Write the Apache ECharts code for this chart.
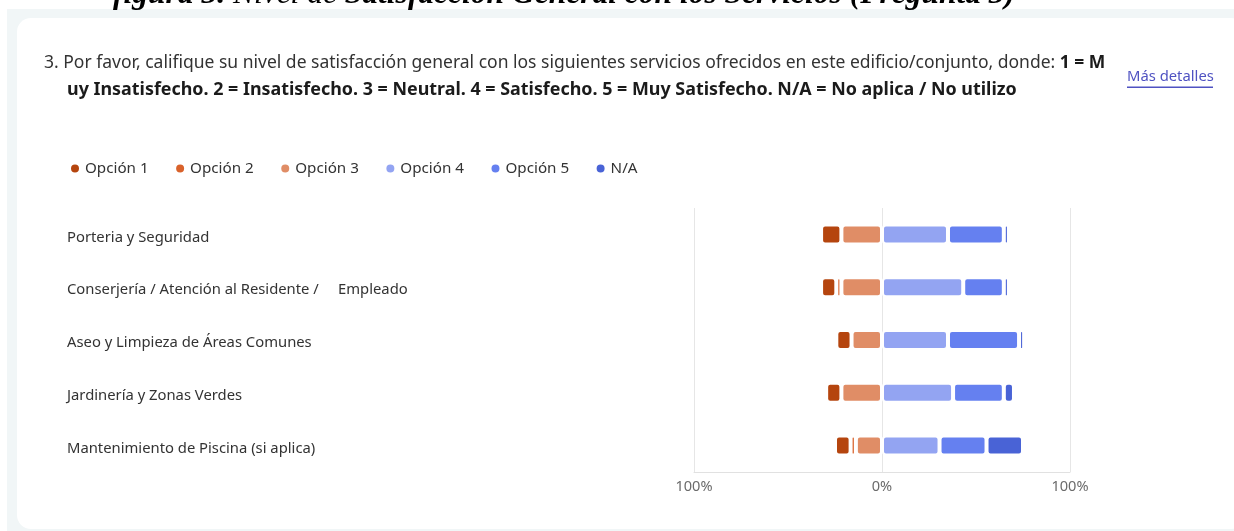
<!DOCTYPE html>
<html>
<head>
<meta charset="utf-8">
<script src="https://cdn.jsdelivr.net/npm/echarts@6/dist/echarts.min.js"></script>
<style>
html,body{margin:0;padding:0;background:#fff;width:1234px;height:531px;overflow:hidden;}
#band{position:absolute;left:7px;top:9px;width:1227px;height:522px;background:#F1F6F7;}
#card{position:absolute;left:17px;top:18px;width:1228px;height:511px;background:#fff;border-radius:14px;}
#chart{position:absolute;left:0;top:0;width:1234px;height:531px;}
</style>
</head>
<body>
<div id="band"></div>
<div id="card"></div>
<div id="chart"></div>
<script>
// ---- data (percent of respondents) ----
const categories = [
  'Porteria y Seguridad',
  'Conserjería / Atención al Residente /     Empleado',
  'Aseo y Limpieza de Áreas Comunes',
  'Jardinería y Zonas Verdes',
  'Mantenimiento de Piscina (si aplica)'
];
const seriesNames = ['Opción 1', 'Opción 2', 'Opción 3', 'Opción 4', 'Opción 5', 'N/A'];
const opcion1 = [10.8, 8.1, 8.1, 8.1, 8.3];
const opcion2 = [0, 2.7, 0, 0, 2.8];
const opcion3 = [21.6, 21.6, 16.2, 21.6, 13.9];
const opcion4 = [35.1, 43.2, 35.1, 37.8, 30.6];
const opcion5 = [29.7, 21.6, 37.8, 27.0, 25.0];
const noAplica = [2.7, 2.7, 2.7, 5.4, 19.4];
const axisTicks = [-100, 0, 100];

const colors = {
  'Opción 1': '#B5450E',
  'Opción 2': '#D9622B',
  'Opción 3': '#E08D66',
  'Opción 4': '#93A4F2',
  'Opción 5': '#6580F0',
  'N/A': '#4963D6'
};

const FONT = 'Noto Sans';

function barSeries(name, values, negative) {
  return {
    name: name,
    type: 'bar',
    stack: 'total',
    barWidth: 20,
    itemStyle: { color: colors[name], borderColor: '#fff', borderWidth: 2, borderRadius: 3 },
    data: values.map(v => negative ? -v : v)
  };
}

const chart = echarts.init(document.getElementById('chart'), null, { renderer: 'canvas' });
chart.setOption({
  animation: false,
  backgroundColor: 'transparent',
  textStyle: { fontFamily: FONT },
  graphic: [
    {
      type: 'text', left: 113, top: -21,
      style: {
        text: '{b|figura 3. }{n|Nivel de }{b|Satisfacción General con los Servicios (Pregunta 3)}',
        rich: {
          b: { fontFamily: 'Liberation Serif', fontStyle: 'italic', fontWeight: 'bold', fontSize: 31.5, fill: '#000' },
          n: { fontFamily: 'Liberation Serif', fontStyle: 'italic', fontWeight: 'normal', fontSize: 31.5, fill: '#000' }
        }
      }
    },
    {
      type: 'text', left: 44, top: 54,
      style: {
        text: '{r|3. Por favor, califique su nivel de satisfacción general con los siguientes servicios ofrecidos en este edificio/conjunto, donde: }{b|1 = M}',
        rich: {
          r: { fontFamily: FONT, fontSize: 17.5, fill: '#333', fontWeight: 'normal' },
          b: { fontFamily: FONT, fontSize: 17.5, fill: '#1b1b1b', fontWeight: 'bold' }
        }
      }
    },
    {
      type: 'text', left: 67, top: 81,
      style: {
        text: 'uy Insatisfecho. 2 = Insatisfecho. 3 = Neutral. 4 = Satisfecho. 5 = Muy Satisfecho. N/A = No aplica / No utilizo',
        fontFamily: FONT, fontSize: 17.9, fontWeight: 'bold', fill: '#1b1b1b'
      }
    },
    {
      type: 'text', left: 1127, top: 69,
      style: { text: 'Más detalles', fontFamily: FONT, fontSize: 14.8, fill: '#4F52C2' }
    },
    {
      type: 'rect', left: 1127, top: 86.5,
      shape: { width: 86, height: 1.5 },
      style: { fill: '#4F52C2' }
    }
  ],
  legend: {
    data: seriesNames,
    left: 64, top: 156,
    icon: 'circle', itemWidth: 10, itemHeight: 10, itemGap: 25.5,
    textStyle: { fontFamily: FONT, fontSize: 15.2, color: '#333' },
    selectedMode: false
  },
  grid: { left: 694, right: 164, top: 208, bottom: 59, containLabel: false },
  xAxis: {
    type: 'value',
    min: axisTicks[0], max: axisTicks[axisTicks.length - 1], interval: 100,
    axisLine: { show: true, lineStyle: { color: '#E1E1E1' } },
    axisTick: { show: false },
    splitLine: { show: true, lineStyle: { color: '#E6E6E6' } },
    axisLabel: {
      formatter: v => Math.abs(v) + '%',
      color: '#6b6b6b', fontFamily: FONT, fontSize: 14.6, margin: 7
    }
  },
  yAxis: {
    type: 'category',
    data: categories,
    inverse: true,
    axisLine: { show: false },
    axisTick: { show: false },
    splitLine: { show: false },
    axisLabel: {
      align: 'left', margin: 627,
      formatter: v => '{c|' + v + '}',
      rich: { c: { color: '#333', fontFamily: FONT, fontSize: 14.8, padding: [6, 0, 0, 0] } }
    }
  },
  series: [
    barSeries('Opción 3', opcion3, true),
    barSeries('Opción 2', opcion2, true),
    barSeries('Opción 1', opcion1, true),
    barSeries('Opción 4', opcion4, false),
    barSeries('Opción 5', opcion5, false),
    barSeries('N/A', noAplica, false)
  ]
});
</script>
</body>
</html>
